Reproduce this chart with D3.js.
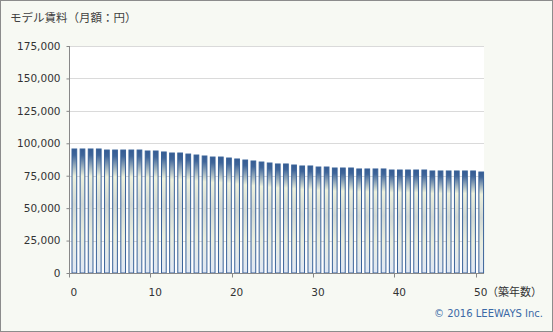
<!DOCTYPE html>
<html lang="ja">
<head>
<meta charset="UTF-8">
<title>モデル賃料</title>
<style>
  body { margin: 0; background: #fff; }
  svg { display: block; }
</style>
</head>
<body>
<script src="https://cdn.jsdelivr.net/npm/d3@7"></script>
<script>
// 築年数 0..50
var years = d3.range(0, 51);
// モデル賃料（円）
var rents = [
  95600, 95600, 95600, 95600, 94800, 94800, 94800, 94800, 94800, 94050,
  94050, 93300, 92500, 92500, 91700, 90950, 90200, 89400, 89400, 88650,
  87900, 87100, 86350, 85550, 84800, 84050, 84050, 83250, 82500, 82500,
  81700, 81700, 80950, 80950, 80950, 80200, 80200, 80200, 80200, 79400,
  79400, 79400, 79400, 79400, 78650, 78650, 78650, 78650, 78650, 78650,
  77850
];
var yTicks = [0, 25000, 50000, 75000, 100000, 125000, 150000, 175000];
var xTicks = [0, 10, 20, 30, 40, 50];

var W = 553, H = 332;
var pLeft = 69, pRight = 484, pTop = 46, pBottom = 273;

var svg = d3.select("body").append("svg").attr("width", W).attr("height", H);

// 背景
svg.append("rect").attr("x", 0.5).attr("y", 0.5).attr("width", W - 1).attr("height", H - 1)
  .attr("fill", "#f7f9f3").attr("stroke", "#8c8c8c");
svg.append("rect").attr("x", pLeft).attr("y", pTop).attr("width", pRight - pLeft).attr("height", pBottom - pTop)
  .attr("fill", "#ffffff");

// グラデーション
var grad = svg.append("defs").append("linearGradient")
  .attr("id", "barGrad").attr("x1", 0).attr("y1", 0).attr("x2", 0).attr("y2", 1);
[[0, "#355b92"], [0.05, "#3f6599"], [0.22, "#eef1dc"], [0.45, "#d2d9d6"],
 [0.7, "#eaeedf"], [1, "#dfe7f5"]].forEach(function (s) {
  grad.append("stop").attr("offset", s[0]).attr("stop-color", s[1]);
});

var x = d3.scaleLinear().domain([0, 51]).range([pLeft, pRight]);
var y = d3.scaleLinear().domain([0, 175000]).range([pBottom, pTop]);

// グリッド線
svg.append("g").selectAll("line").data(yTicks).enter().append("line")
  .attr("x1", pLeft).attr("x2", pRight)
  .attr("y1", function (d) { return Math.round(y(d)) + 0.5; })
  .attr("y2", function (d) { return Math.round(y(d)) + 0.5; })
  .attr("stroke", "#dadada");

// 棒
svg.append("g").selectAll("rect").data(rents).enter().append("rect")
  .attr("x", function (d, i) { return x(years[i]) + 3; })
  .attr("y", function (d) { return y(d); })
  .attr("width", 4.7)
  .attr("height", function (d) { return pBottom - y(d); })
  .attr("fill", "url(#barGrad)")
  .attr("stroke", "#3a6399")
  .attr("stroke-width", 1);

// Y軸
var yAxis = d3.axisLeft(y).tickValues(yTicks).tickSize(3).tickPadding(6)
  .tickFormat(d3.format(","));
var gy = svg.append("g").attr("transform", "translate(" + (pLeft + 0.5) + ",0)").call(yAxis);
gy.select(".domain").attr("stroke", "#888").attr("d", "M0," + pTop + "V" + pBottom);
gy.selectAll(".tick line").attr("stroke", "#888");
gy.selectAll("text").attr("fill", "#333").style("font-family", "DejaVu Sans")
  .style("font-size", "10.5px");

// X軸
var gx = svg.append("g").attr("transform", "translate(0," + (pBottom + 0.5) + ")");
gx.append("line").attr("x1", pLeft).attr("x2", pRight).attr("stroke", "#888");
gx.selectAll("line.tk").data(xTicks).enter().append("line").attr("class", "tk")
  .attr("x1", function (d) { return Math.round(x(d)) + 0.5; })
  .attr("x2", function (d) { return Math.round(x(d)) + 0.5; })
  .attr("y1", 0).attr("y2", 4).attr("stroke", "#888");
gx.selectAll("text").data(xTicks).enter().append("text")
  .attr("x", function (d) { return x(d + 0.6); })
  .attr("y", 22)
  .attr("text-anchor", "middle")
  .attr("fill", "#333")
  .style("font-family", "DejaVu Sans").style("font-size", "10.5px")
  .text(function (d) { return d; });

// タイトル・ラベル
svg.append("text").attr("x", 10).attr("y", 22)
  .attr("fill", "#404040")
  .style("font-family", "Noto Sans CJK JP").style("font-size", "11.5px")
  .text("モデル賃料（月額：円）");
svg.append("text").attr("x", 487).attr("y", 296)
  .attr("fill", "#333")
  .style("font-family", "Noto Sans CJK JP").style("font-size", "11px")
  .text("（築年数）");
svg.append("text").attr("x", 543).attr("y", 317).attr("text-anchor", "end")
  .attr("fill", "#3b69a6")
  .style("font-family", "DejaVu Sans").style("font-size", "10px")
  .text("© 2016 LEEWAYS Inc.");
</script>
</body>
</html>
